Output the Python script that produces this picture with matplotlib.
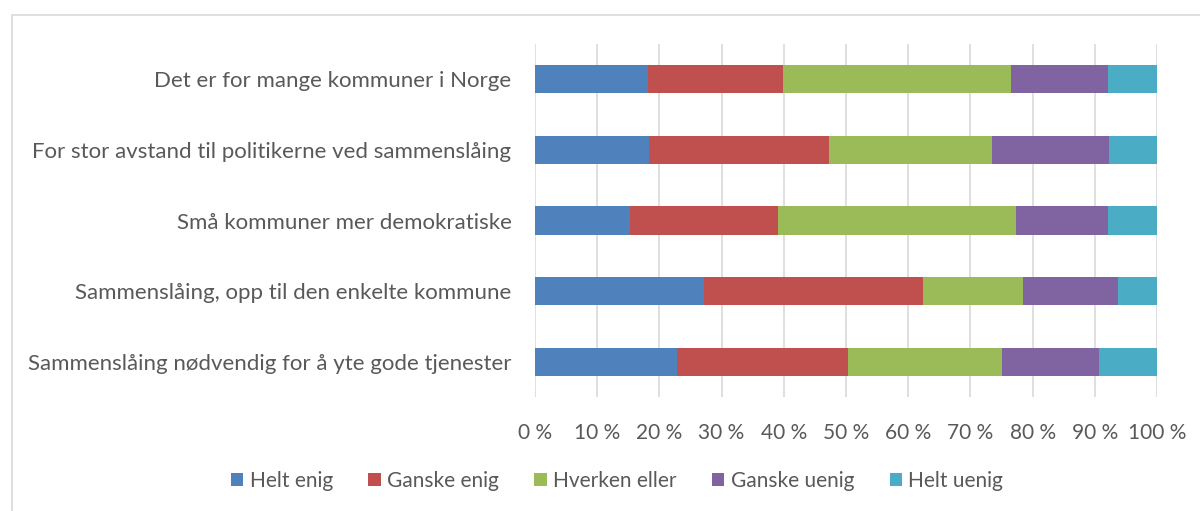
import numpy as np
import matplotlib
matplotlib.use('Agg')
import matplotlib.pyplot as plt
from matplotlib.patches import Rectangle

plt.rcParams['font.family'] = ['Lato', 'DejaVu Sans']

categories = [
    'Det er for mange kommuner i Norge',
    'For stor avstand til politikerne ved sammenslåing',
    'Små kommuner mer demokratiske',
    'Sammenslåing, opp til den enkelte kommune',
    'Sammenslåing nødvendig for å yte gode tjenester',
]
series_names = ['Helt enig', 'Ganske enig', 'Hverken eller', 'Ganske uenig', 'Helt uenig']
helt_enig = [18.2, 18.4, 15.2, 27.2, 22.8]
ganske_enig = [21.65, 28.85, 23.8, 35.1, 27.5]
hverken = [36.75, 26.15, 38.3, 16.2, 24.7]
ganske_uenig = [15.5, 18.9, 14.8, 15.25, 15.6]
helt_uenig = [7.9, 7.7, 7.9, 6.25, 9.4]
colors = ['#4F81BD', '#C0504D', '#9BBB59', '#8064A2', '#4BACC6']
xticks = [0, 10, 20, 30, 40, 50, 60, 70, 80, 90, 100]

text_color = '#595959'
grid_color = '#D9D9D9'

fig = plt.figure(figsize=(12, 5.11), dpi=100)
ax = fig.add_axes([535/1200, 1 - 397/511, 622/1200, 353/511])

data = np.array([helt_enig, ganske_enig, hverken, ganske_uenig, helt_uenig])
data = data / data.sum(axis=0) * 100
y = np.arange(len(categories))
left = np.zeros(len(categories))
for vals, name, col in zip(data, series_names, colors):
    ax.barh(y, vals, left=left, height=0.4, color=col, label=name, zorder=3)
    left += vals

ax.set_xlim(0, 100)
ax.set_ylim(len(categories) - 0.5, -0.5)
ax.set_yticks(y)
ax.set_yticklabels(categories, fontsize=16, color=text_color)
ax.set_xticks(xticks)
ax.set_xticklabels([f'{t} %' for t in xticks], fontsize=15, color=text_color)
ax.tick_params(axis='y', length=0, pad=17)
ax.tick_params(axis='x', length=0, pad=19)
ax.grid(axis='x', color=grid_color, linewidth=1.2, zorder=0)
for s in ax.spines.values():
    s.set_visible(False)

fig.legend(loc='center', bbox_to_anchor=(617/1200, 1 - 481/511), ncol=5,
           frameon=False, fontsize=15, labelcolor=text_color,
           handlelength=0.6, handleheight=0.6, handletextpad=0.3,
           columnspacing=1.7)

fig.patches.append(Rectangle((12/1200, -0.1), 1.1, 1.1 - 15/511,
                             transform=fig.transFigure, fill=False,
                             edgecolor=grid_color, linewidth=1.2))

fig.savefig('out.png', dpi=100)
